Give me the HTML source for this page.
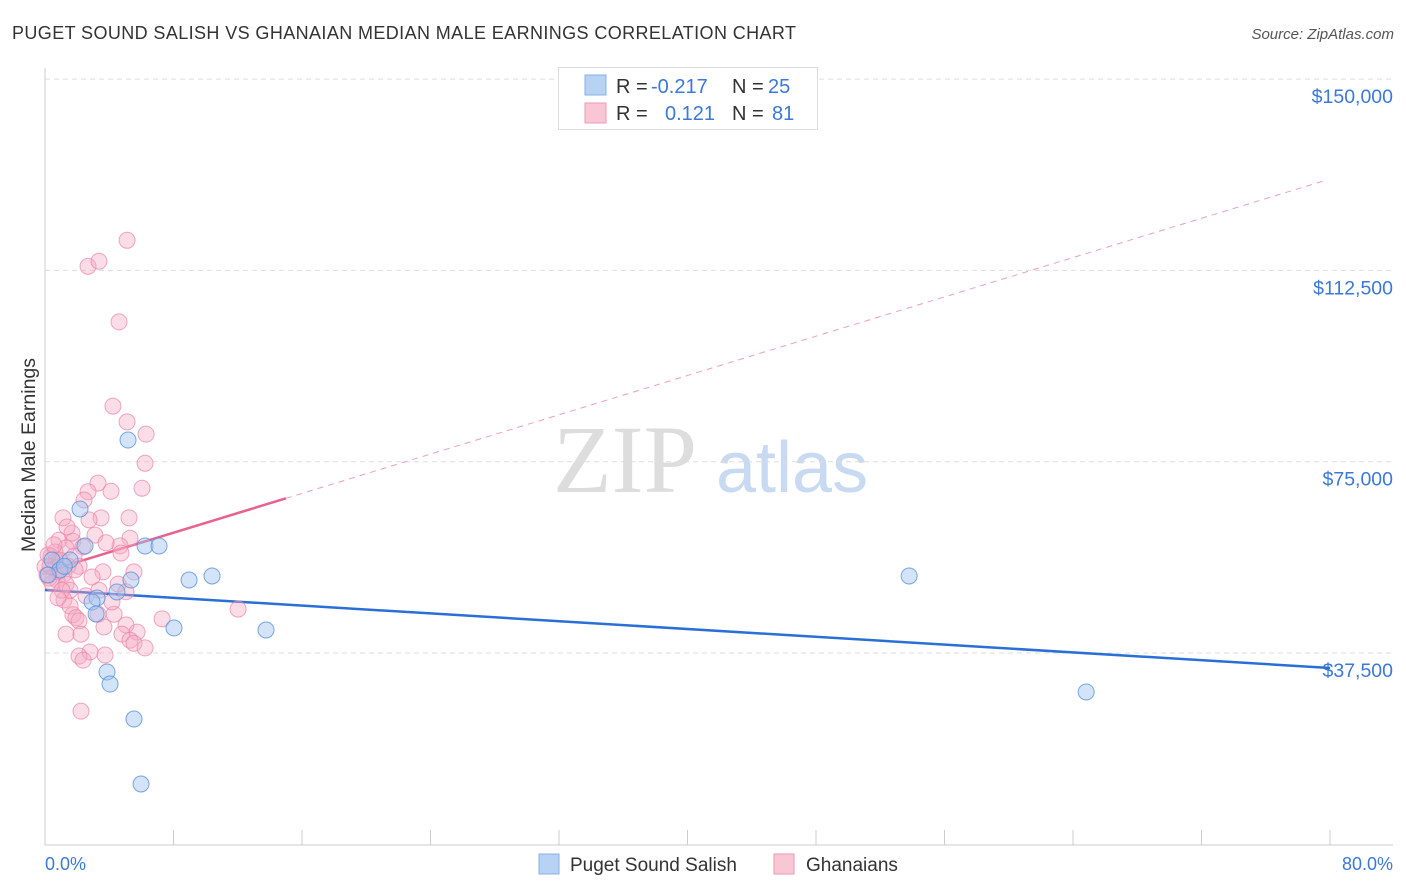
<!DOCTYPE html>
<html><head><meta charset="utf-8"><style>
body{margin:0;background:#fff;font-family:"Liberation Sans",sans-serif}
svg{display:block}
</style></head><body>
<svg id="chart" width="1406" height="892" xmlns="http://www.w3.org/2000/svg">
<text x="12" y="39" font-size="18" fill="#333" textLength="784">PUGET SOUND SALISH VS GHANAIAN MEDIAN MALE EARNINGS CORRELATION CHART</text>
<text x="1394" y="39" font-size="15" fill="#555" font-style="italic" text-anchor="end">Source: ZipAtlas.com</text>
<g>
<text x="553" y="492" font-size="96" fill="#ddd" font-family="Liberation Serif,serif">ZIP</text>
<text x="716" y="492" font-size="72" fill="#c8daf2">atlas</text>
</g>
<g id="grid"></g>
<g id="axes"></g>
<g id="lines"></g>
<g id="points"></g>
<text x="35" y="455" font-size="19.5" fill="#333" text-anchor="middle" transform="rotate(-90 35 455)">Median Male Earnings</text>
<text x="45" y="870" font-size="18" fill="#3b78d8">0.0%</text>
<text x="1393" y="870" font-size="18" fill="#3b78d8" text-anchor="end">80.0%</text>
<g>
<rect x="558.5" y="67.5" width="259" height="62" fill="#fff" stroke="#ddd"/>
<rect x="585" y="75" width="21" height="20" fill="#b8d2f4" stroke="#8ab0e6"/>
<rect x="585" y="103" width="21" height="20" fill="#f8c6d4" stroke="#ee9ab4"/>
<text x="616" y="93" font-size="20" fill="#333">R =</text>
<text x="651" y="93" font-size="20" fill="#3b78d8">-0.217</text>
<text x="732" y="93" font-size="20" fill="#333">N =</text>
<text x="768" y="93" font-size="20" fill="#3b78d8">25</text>
<text x="616" y="120" font-size="20" fill="#333">R =</text>
<text x="665" y="120" font-size="20" fill="#3b78d8">0.121</text>
<text x="732" y="120" font-size="20" fill="#333">N =</text>
<text x="772" y="120" font-size="20" fill="#3b78d8">81</text>
</g>
<g>
<rect x="539" y="854" width="20" height="20" fill="#b8d2f4" stroke="#8ab0e6"/>
<text x="570" y="871" font-size="19" fill="#333">Puget Sound Salish</text>
<rect x="774" y="854" width="20" height="20" fill="#f8c6d4" stroke="#ee9ab4"/>
<text x="806" y="871" font-size="19" fill="#333">Ghanaians</text>
</g>
</svg>
<script>
const yTicks=[37500,75000,112500,150000];
const yTickLabels=["$37,500","$75,000","$112,500","$150,000"];
const blueX=[5.17,2.18,6.23,7.10,2.49,8.97,10.40,5.35,4.48,3.24,2.93,3.18,8.03,13.76,3.86,4.05,5.54,5.98,53.8,64.82,0.44,0.93,1.56,0.19,1.2];
const blueY=[79250,65730,58480,58480,58480,51810,52600,51810,49460,48280,47500,45150,42400,42010,33780,31420,24560,11820,52600,29860,55730,53770,55730,52790,54500];
const pinkX=[5.11,2.68,3.36,4.61,4.23,5.11,6.29,6.23,3.30,2.68,4.11,6.04,2.43,1.12,3.49,2.74,5.23,5.29,4.67,4.73,0.87,1.74,2.37,1.31,1.81,2.12,0.37,0.68,0,0.81,1.18,3.61,5.54,0.75,0.25,0.44,1.31,2.93,4.55,5.04,1.56,1.18,1.56,3.30,1.74,1.93,2.12,4.30,3.67,5.04,7.29,12.02,1.31,2.24,4.79,5.73,5.29,5.54,6.23,2.80,2.12,3.74,2.37,2.24,0.12,0.31,0.62,0.93,1.43,1.87,1.06,2.55,4.17,3.36,0.81,0.19,0.56,1.68,1.37,3.11,3.80];
const pinkY=[118400,113300,114300,102400,85900,82800,80400,74700,70800,69100,69200,69800,67500,64000,64000,63600,64000,60000,58500,57100,59600,59400,58300,58100,56500,54500,56500,55500,54400,53400,53000,53400,53400,51800,52200,51200,51000,52400,51000,49500,49800,47900,46700,45100,45000,44400,43800,45100,42600,43000,44200,46100,41200,41200,41200,41600,40000,39400,38500,37700,36900,37100,36100,26100,52800,54500,57300,55700,54500,53800,49800,48700,47500,49800,48300,56700,58700,61000,62200,60600,59100];
const blueTrend=[49850,34560];
const pinkTrend=[53380,130420];
const pinkSolidEnd=15;
const NS="http://www.w3.org/2000/svg";
const X=p=>45+p*(1330-45)/80;
const Y=v=>844.3-v*(191.3/37500);
function mk(t,a,parent){const e=document.createElementNS(NS,t);for(const k in a)e.setAttribute(k,a[k]);parent.appendChild(e);return e;}
const grid=document.getElementById('grid'),axes=document.getElementById('axes'),lines=document.getElementById('lines'),pts=document.getElementById('points');
yTicks.forEach((v,i)=>{
 const l=mk('line',{x1:45,x2:1393,y1:Y(v),y2:Y(v),stroke:'#ddd','stroke-dasharray':'5,4'},grid);
 
 
 const t=mk('text',{x:1393,y:Y(v)+24,'font-size':19.5,fill:'#3b78d8','text-anchor':'end'},grid);
 t.textContent=yTickLabels[i];
 
 
});
mk('line',{x1:45,x2:45,y1:68,y2:845,stroke:'#ccc'},axes);
mk('line',{x1:45,x2:1393,y1:845,y2:845,stroke:'#ccc'},axes);
for(let i=0;i<=10;i++){const t=mk('line',{x1:X(i*8),x2:X(i*8),y1:830,y2:845,stroke:'#ccc'},axes);
 
 }
const bl=mk('line',{x1:X(0),y1:Y(blueTrend[0]),x2:X(80),y2:Y(blueTrend[1]),stroke:'#2a6fd6','stroke-width':2.5},lines);


const pv=p=>pinkTrend[0]+(pinkTrend[1]-pinkTrend[0])*p/80;
const ps=mk('line',{x1:X(0),y1:Y(pv(0)),x2:X(pinkSolidEnd),y2:Y(pv(pinkSolidEnd)),stroke:'#e8628e','stroke-width':2.5},lines);


const pd=mk('line',{x1:X(pinkSolidEnd),y1:Y(pv(pinkSolidEnd)),x2:X(79.8),y2:Y(pv(79.8)),stroke:'#eba0b8','stroke-width':1,'stroke-dasharray':'6,5'},lines);


pinkX.forEach((x,i)=>{const c=mk('circle',{cx:X(x),cy:Y(pinkY[i]),r:8,fill:'rgba(246,170,195,0.4)',stroke:'rgba(236,130,165,0.7)','stroke-width':1},pts);
 
 });
blueX.forEach((x,i)=>{const c=mk('circle',{cx:X(x),cy:Y(blueY[i]),r:8,fill:'rgba(160,195,240,0.45)',stroke:'rgba(90,145,220,0.8)','stroke-width':1},pts);
 
 });
</script>
</body></html>
